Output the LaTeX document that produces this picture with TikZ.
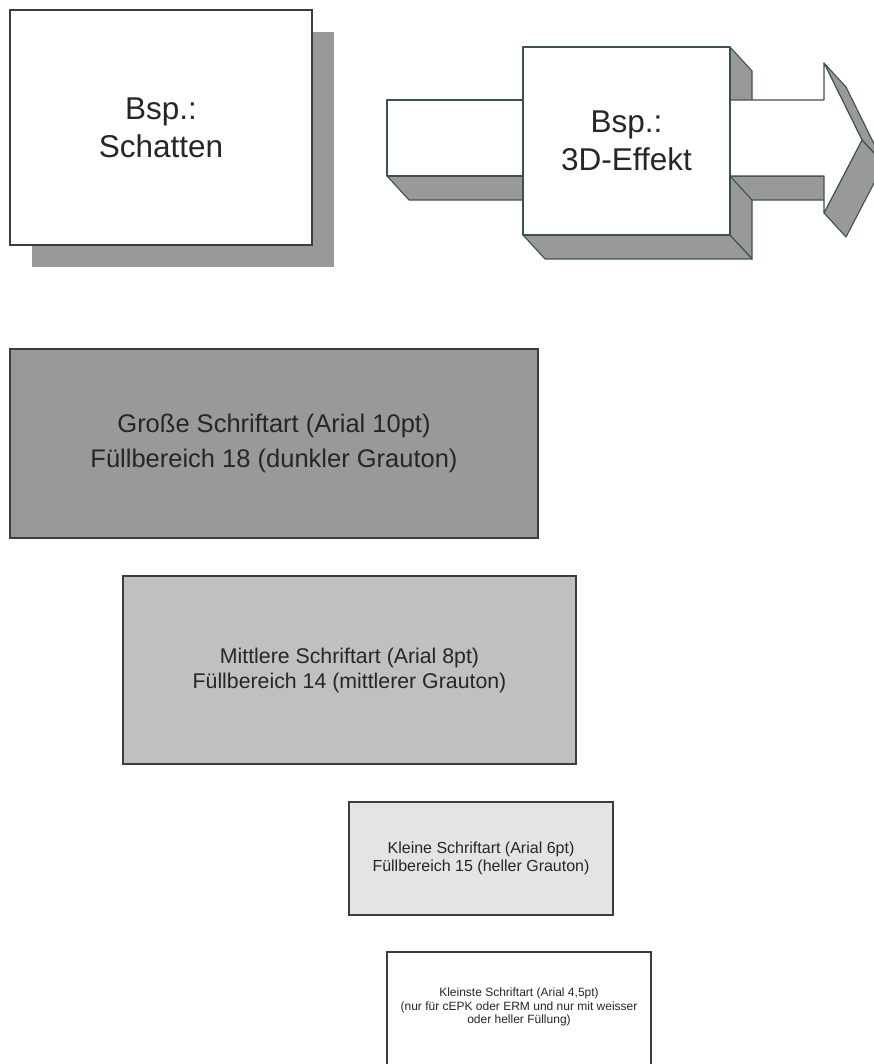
\documentclass[tikz,border=0pt]{standalone}
\usepackage{fontspec}
\setmainfont{Liberation Sans}
\usetikzlibrary{shadows}
\definecolor{dunkel}{HTML}{999999}
\definecolor{mittel}{HTML}{C0C0C0}
\definecolor{hell}{HTML}{E4E4E4}
\definecolor{rand}{HTML}{3C3C3C}
\definecolor{kante}{HTML}{3A5546}
\definecolor{seite}{HTML}{999999}

\begin{document}
\begin{tikzpicture}[x=1pt, y=-1pt,
block/.style = {rectangle, draw=rand, line width=1.5pt, align=center, text=black!85, inner sep=0pt},
face/.style = {fill=seite, draw=kante, line width=1.1pt, line join=round},
front/.style = {fill=white, draw=kante, line width=1.1pt, line join=round}]
\useasboundingbox (0,0) rectangle (873,1064);

% Schatten
\node [block, fill=white, minimum width=302, minimum height=235,
  drop shadow={shadow xshift=22pt, shadow yshift=-22pt, fill=seite, opacity=1},
  font=\fontsize{31.5}{38}\selectfont] at (161,127.5) (schatten) {Bsp.:\\Schatten};

% 3D-Effekt
\filldraw [face] (387,176) -- (409,200) -- (523,200) -- (523,176) -- cycle;
\filldraw [front] (523,100) -- (387,100) -- (387,176) -- (523,176);
\filldraw [face] (730,47) -- (752,71) -- (752,259) -- (730,235) -- cycle;
\filldraw [face] (523,235) -- (730,235) -- (752,259) -- (545,259) -- cycle;
\filldraw [face] (730,176) -- (824,176) -- (846,200) -- (752,200) -- cycle;
\filldraw [face] (824,63) -- (862,140) -- (884,164) -- (846,87) -- cycle;
\filldraw [face] (862,140) -- (824,213) -- (846,237) -- (884,164) -- cycle;
\filldraw [front] (730,100) -- (824,100) -- (824,63) -- (862,140) -- (824,213) -- (824,176) -- (730,176);
\node [block, front, minimum width=207, minimum height=188,
  font=\fontsize{31.5}{38}\selectfont] at (626.5,141) (dreid) {Bsp.:\\3D-Effekt};

% Schriftgroessen
\node [block, fill=dunkel, minimum width=528, minimum height=189,
  font=\fontsize{25.5}{35}\selectfont] at (274,443.5) (gross)
  {Große Schriftart (Arial 10pt)\\Füllbereich 18 (dunkler Grauton)};
\node [block, fill=mittel, minimum width=453, minimum height=188,
  font=\fontsize{21.3}{25}\selectfont] at (349.5,670) (mittel)
  {Mittlere Schriftart (Arial 8pt)\\Füllbereich 14 (mittlerer Grauton)};
\node [block, fill=hell, minimum width=264, minimum height=113,
  font=\fontsize{16}{18}\selectfont] at (481,858.5) (klein)
  {Kleine Schriftart (Arial 6pt)\\Füllbereich 15 (heller Grauton)};
\node [block, fill=white, minimum width=264, minimum height=140] at (519,1022) (kleinst) {};
\node [align=center, text=black!85, inner sep=0pt,
  font=\fontsize{12}{13.5}\selectfont] at (519,1007) (kleinsttext)
  {Kleinste Schriftart (Arial 4,5pt)\\(nur für cEPK oder ERM und nur mit weisser\\oder heller Füllung)};

\end{tikzpicture}
\end{document}
